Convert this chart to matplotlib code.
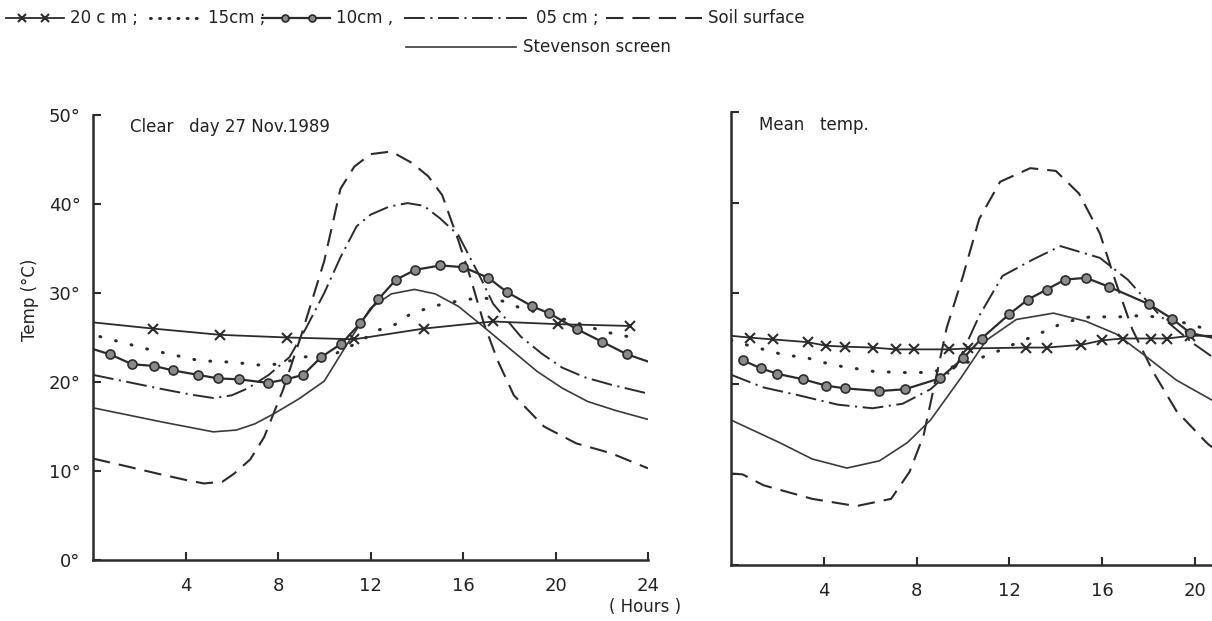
import matplotlib
matplotlib.use("Agg")
import matplotlib.pyplot as plt
from matplotlib.lines import Line2D

plt.rcParams['font.family'] = ['DejaVu Sans']
plt.rcParams['lines.scale_dashes'] = False

# ---------------- data: Clear day 27 Nov 1989 ----------------
clear_h20 = [0, 2.6, 5.5, 8.4, 11.3, 14.3, 17.3, 20.1, 23.2]
clear_t20 = [26.7, 26.0, 25.3, 25.0, 24.8, 26.0, 26.8, 26.5, 26.3]

clear_h15 = [0.3, 2.5, 4.6, 6.2, 7.0, 8.0, 9.1, 10.5, 11.5, 12.3, 13.1, 13.7,
             14.7, 15.4, 16.2, 17.0, 17.7, 18.5, 19.4, 20.6, 22.2, 23.7]
clear_t15 = [25.1, 23.6, 22.4, 22.2, 21.9, 22.0, 22.8, 23.2, 24.5, 25.8, 26.5, 27.6,
             28.5, 28.9, 29.3, 29.4, 29.1, 28.3, 27.7, 26.9, 25.6, 24.8]

clear_h10 = [0.0, 0.74, 1.69, 2.64, 3.46, 4.55, 5.41, 6.32, 7.57, 8.35, 9.09, 9.87,
             10.74, 11.56, 12.34, 13.1, 13.94, 15.02, 16.02, 17.1, 17.9, 19.0,
             19.74, 20.95, 22.03, 23.1, 24.0]
clear_t10 = [23.7, 23.1, 22.0, 21.8, 21.3, 20.8, 20.4, 20.3, 19.9, 20.3, 20.8, 22.8,
             24.3, 26.6, 29.3, 31.5, 32.6, 33.1, 32.9, 31.7, 30.1, 28.5,
             27.7, 25.9, 24.5, 23.1, 22.3]

clear_h05 = [0, 1.5, 3.0, 4.2, 5.2, 6.0, 6.7, 7.6, 8.5, 9.2, 10.0, 10.7, 11.4, 12.0,
             12.8, 13.6, 14.3, 15.0, 15.8, 16.3, 16.8, 17.3, 18.5, 19.4, 20.3, 21.3,
             22.4, 24.0]
clear_t05 = [20.8, 20.0, 19.2, 18.6, 18.2, 18.5, 19.3, 20.8, 22.8, 26.0, 30.0, 34.0,
             37.5, 38.8, 39.7, 40.1, 39.8, 38.4, 36.5, 34.0, 31.5, 28.8, 25.1, 23.2,
             21.6, 20.5, 19.7, 18.7]

clear_hsoil = [0, 1.5, 2.8, 4.0, 4.8, 5.6, 6.1, 6.8, 7.4, 8.2, 9.0, 10.0, 10.7, 11.3,
               12.0, 12.9, 13.8, 14.5, 15.1, 15.8, 16.3, 16.9, 17.5, 18.2, 19.5, 20.9,
               22.4, 24.0]
clear_tsoil = [11.4, 10.5, 9.7, 9.0, 8.6, 8.8, 9.7, 11.3, 13.8, 19.0, 25.2, 33.6, 41.7,
               44.2, 45.6, 45.9, 44.6, 43.1, 41.0, 35.9, 31.9, 26.6, 22.4, 18.5, 15.0,
               13.1, 12.0, 10.3]

clear_hstev = [0, 1.5, 3.0, 4.2, 5.2, 6.2, 7.0, 7.8, 8.9, 10.0, 11.0, 12.0, 12.9, 13.9,
               14.8, 15.8, 16.75, 18.0, 19.2, 20.3, 21.4, 22.6, 24.0]
clear_tstev = [17.1, 16.3, 15.5, 14.9, 14.4, 14.6, 15.3, 16.4, 18.1, 20.1, 24.3, 28.3,
               29.9, 30.4, 29.9, 28.5, 26.5, 23.8, 21.2, 19.3, 17.8, 16.8, 15.8]

# ---------------- data: Mean temp ----------------
mean_h20 = [0, 0.8, 1.8, 3.3, 4.1, 4.9, 6.1, 7.1, 7.9, 9.4, 10.2, 12.7, 13.6, 15.1,
            16.0, 16.9, 18.1, 18.8, 19.8, 20.73]
mean_t20 = [25.3, 25.1, 24.9, 24.6, 24.2, 24.1, 24.0, 23.8, 23.8, 23.8, 23.9, 24.0,
            24.0, 24.3, 24.8, 25.0, 25.0, 25.0, 25.3, 25.3]

mean_h15 = [0.0, 0.8, 1.7, 2.4, 3.1, 3.9, 4.8, 5.6, 6.3, 7.1, 7.8, 8.6, 9.2, 10.0,
            10.8, 11.6, 12.3, 13.0, 13.7, 14.3, 14.9, 15.7, 16.4, 17.2, 18.0, 18.8,
            19.8, 20.5]
mean_t15 = [24.8, 24.2, 23.6, 23.1, 23.0, 22.4, 21.9, 21.6, 21.3, 21.3, 21.2, 21.3,
            21.6, 22.2, 22.9, 23.7, 24.5, 25.2, 26.0, 26.7, 27.1, 27.5, 27.3, 27.5,
            27.5, 27.1, 26.6, 26.0]

mean_h10 = [0.5, 1.3, 2.0, 3.1, 4.1, 4.9, 6.4, 7.5, 9.0, 10.0, 10.8, 12.0, 12.8, 13.6,
            14.4, 15.3, 16.3, 18.0, 19.0, 19.8, 20.73]
mean_t10 = [22.6, 21.7, 21.1, 20.5, 19.8, 19.5, 19.2, 19.4, 20.6, 22.8, 25.0, 27.7,
            29.3, 30.4, 31.5, 31.7, 30.7, 28.8, 27.2, 25.6, 25.1]

mean_h05 = [0, 1.4, 2.8, 4.6, 6.1, 7.4, 8.6, 9.7, 10.7, 11.7, 13.0, 14.2, 15.9, 17.1,
            18.5, 19.9, 20.73]
mean_t05 = [21.0, 19.6, 18.8, 17.7, 17.3, 17.8, 19.4, 21.9, 27.5, 31.9, 33.7, 35.2,
            33.9, 31.5, 27.5, 24.5, 23.0]

mean_hsoil = [0, 0.5, 1.4, 3.5, 5.4, 6.9, 7.7, 8.3, 9.3, 10.0, 10.7, 11.6, 12.9, 14.0,
              15.0, 15.9, 16.6, 17.3, 18.2, 19.2, 20.5, 20.73]
mean_tsoil = [10.1, 10.0, 8.8, 7.3, 6.5, 7.3, 10.3, 14.3, 26.2, 31.9, 38.2, 42.3, 43.8,
              43.5, 41.0, 36.6, 31.1, 26.0, 21.3, 17.0, 13.5, 13.0]

mean_hstev = [0, 2.1, 3.5, 5.0, 6.4, 7.6, 8.6, 9.95, 11.0, 12.3, 13.9, 15.3, 16.6,
              17.9, 19.2, 20.73]
mean_tstev = [16.0, 13.5, 11.7, 10.7, 11.5, 13.5, 16.0, 20.8, 24.8, 27.1, 27.8, 26.9,
              25.5, 23.0, 20.4, 18.2]

xticks_left = [4, 8, 12, 16, 20, 24]
xticks_right = [4, 8, 12, 16, 20]
yticks = [0, 10, 20, 30, 40, 50]
ytick_labels = ["0°", "10°", "20°", "30°", "40°", "50°"]

# ---------------- styles ----------------
INK = '#2b2b2b'
S20 = dict(color=INK, lw=1.3, marker='x', ms=7, mew=1.5)
S15 = dict(color=INK, lw=2.2, linestyle=(0, (0.6, 11)), dash_capstyle='round')
S10 = dict(color=INK, lw=1.6, marker='o', ms=6.5, mfc='#8a8a8a', mec=INK, mew=1.2)
S05 = dict(color=INK, lw=1.4, linestyle=(0, (15, 4, 1.5, 4)))
SSOIL = dict(color=INK, lw=1.5, linestyle=(0, (12.5, 6.5)))
SSTEV = dict(color='#3a3a3a', lw=1.2, linestyle='-')

fig = plt.figure(figsize=(12.12, 6.21), dpi=100)
W, H = 1212.0, 621.0

ax1 = fig.add_axes([93 / W, 1 - 560 / H, (648 - 93) / W, (560 - 115) / H])
ax2 = fig.add_axes([731 / W, 1 - 565 / H, (1212 - 731) / W, (565 - 112) / H])


def style(ax, xmax, xticks, ylabels):
    ax.set_xticks(xticks)
    ax.set_yticks(yticks)
    ax.set_xlim(0, xmax)
    ax.set_ylim(0, 50)
    for s in ('top', 'right'):
        ax.spines[s].set_visible(False)
    for s in ('left', 'bottom'):
        ax.spines[s].set_linewidth(1.8)
        ax.spines[s].set_color(INK)
    ax.tick_params(direction='in', length=6, width=1.5, color=INK,
                   labelsize=13, labelcolor='#222222')
    ax.tick_params(axis='x', pad=12)
    ax.tick_params(axis='y', pad=9)
    if ylabels:
        ax.set_yticklabels(ytick_labels)
    else:
        ax.set_yticklabels([])
    ax.patch.set_alpha(0)


style(ax1, 24, xticks_left, True)
style(ax2, (1212 - 731) / 23.2, xticks_right, False)

# left panel
ax1.plot(clear_hsoil, clear_tsoil, **SSOIL)
ax1.plot(clear_h05, clear_t05, **S05)
ax1.plot(clear_hstev, clear_tstev, **SSTEV)
ax1.plot(clear_h15, clear_t15, **S15)
ax1.plot(clear_h20, clear_t20, markevery=slice(1, None), **S20)
ax1.plot(clear_h10, clear_t10, markevery=slice(1, len(clear_h10) - 1), **S10)
ax1.text(1.6, 48.6, "Clear   day 27 Nov.1989", fontsize=12, color='#222222',
         va='center', ha='left')

# right panel
ax2.plot(mean_hsoil, mean_tsoil, **SSOIL)
ax2.plot(mean_h05, mean_t05, **S05)
ax2.plot(mean_hstev, mean_tstev, **SSTEV)
ax2.plot(mean_h15, mean_t15, **S15)
ax2.plot(mean_h20, mean_t20, markevery=slice(1, len(mean_h20) - 1), **S20)
ax2.plot(mean_h10, mean_t10, markevery=slice(0, len(mean_h10) - 1), **S10)
ax2.text(1.2, 48.6, "Mean   temp.", fontsize=12, color='#222222',
         va='center', ha='left')

# axis labels
fig.text(30 / W, 1 - 300 / H, "Temp (°C)", rotation=90, fontsize=12,
         ha='center', va='center', color='#222222')
fig.text(645 / W, 1 - 607 / H, "( Hours )", fontsize=12, ha='center',
         va='center', color='#222222')

# ---------------- legend (drawn in figure coordinates) ----------------
def fx(px):
    return px / W


def fy(py):
    return 1 - py / H


def sample(x0, x1, y, style_kw, markers=None):
    kw = dict(style_kw)
    mk = kw.pop('marker', None)
    ms = kw.pop('ms', None)
    mfc = kw.pop('mfc', None)
    mec = kw.pop('mec', None)
    mew = kw.pop('mew', None)
    fig.add_artist(Line2D([fx(x0), fx(x1)], [fy(y), fy(y)], transform=fig.transFigure, **kw))
    if mk and markers:
        fig.add_artist(Line2D([fx(m) for m in markers], [fy(y)] * len(markers),
                              transform=fig.transFigure, linestyle='none',
                              marker=mk, ms=ms - 1.5, mfc=mfc if mfc else INK,
                              mec=mec if mec else INK, mew=mew if mew else 1.2,
                              color=INK))


ly1, ly2 = 18, 47
sample(6, 64, ly1, S20, markers=[22, 45])
fig.text(fx(70), fy(ly1), "20 c m ;", fontsize=12, va='center', ha='left', color='#222222')
sample(150, 204, ly1, dict(S15, linestyle=(0, (0.6, 6))))
fig.text(fx(208), fy(ly1), "15cm ;", fontsize=12, va='center', ha='left', color='#222222')
sample(262, 330, ly1, S10, markers=[285, 312])
fig.text(fx(336), fy(ly1), "10cm ,", fontsize=12, va='center', ha='left', color='#222222')
sample(404, 527, ly1, S05)
fig.text(fx(536), fy(ly1), "05 cm ;", fontsize=12, va='center', ha='left', color='#222222')
sample(606, 702, ly1, SSOIL)
fig.text(fx(708), fy(ly1), "Soil surface", fontsize=12, va='center', ha='left', color='#222222')
sample(406, 516, ly2, SSTEV)
fig.text(fx(523), fy(ly2), "Stevenson screen", fontsize=12, va='center', ha='left', color='#222222')

fig.savefig("out.png", dpi=100)
